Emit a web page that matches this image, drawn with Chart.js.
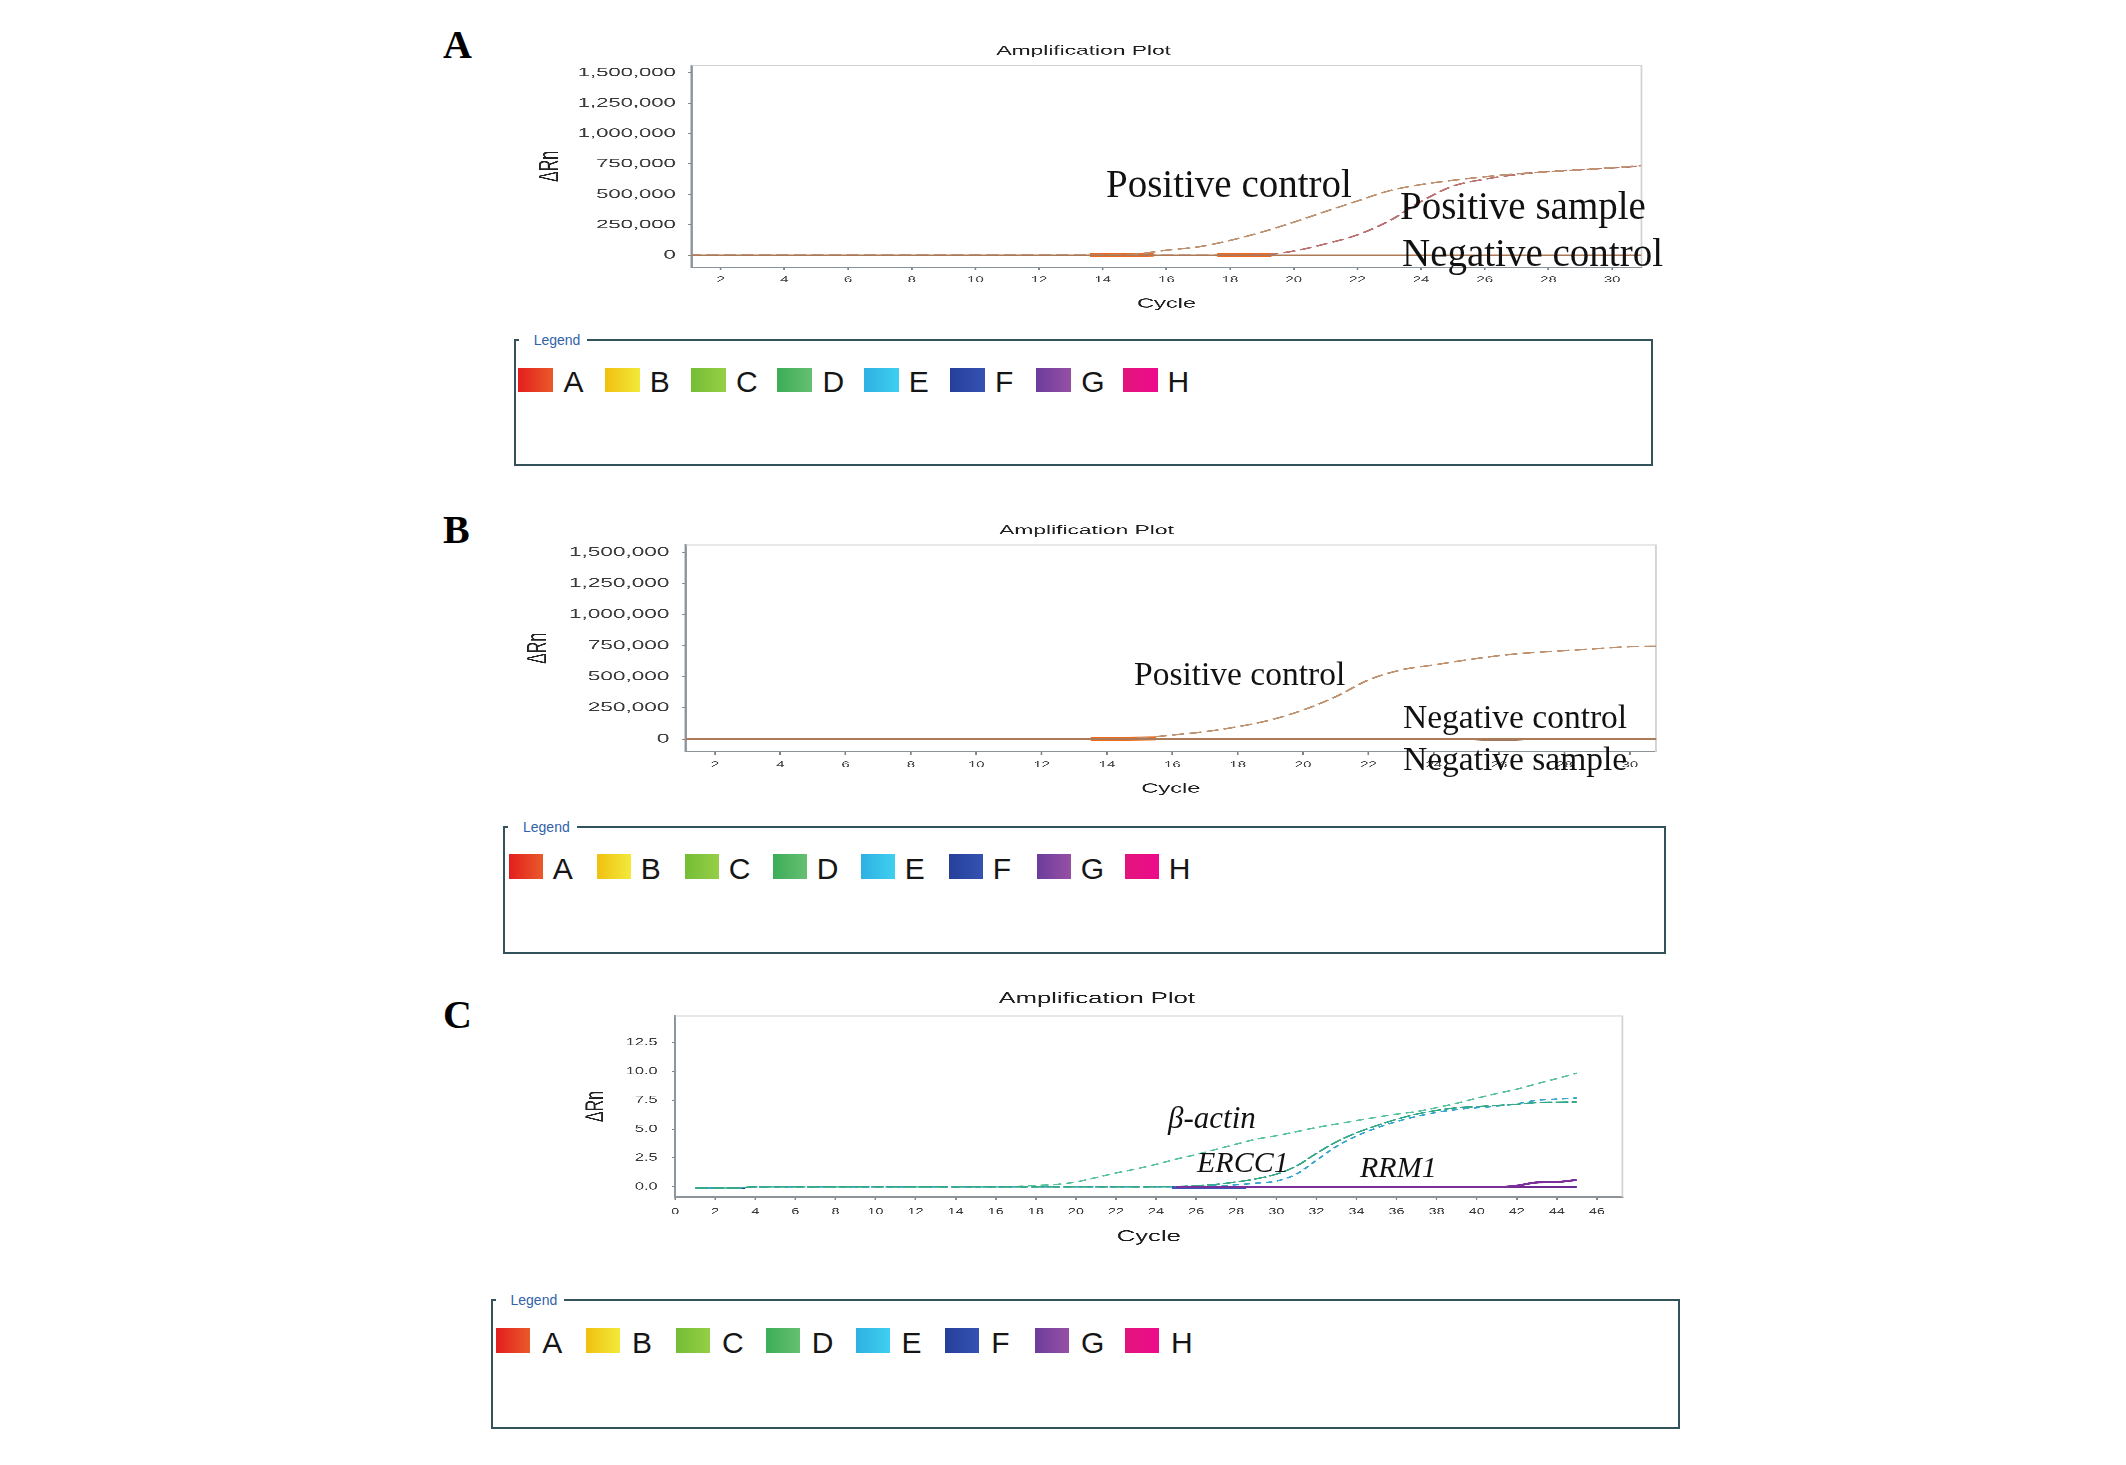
<!DOCTYPE html>
<html>
<head>
<meta charset="utf-8">
<title>Amplification plots</title>
<script src="https://cdn.jsdelivr.net/npm/chart.js@4.4.1/dist/chart.umd.min.js"></script>
<style>
  html, body { margin: 0; padding: 0; background: #fff; }
  body { position: relative; width: 2126px; height: 1465px; overflow: hidden; font-family: "Liberation Sans", Arial, sans-serif; }
  .panel-letter { position: absolute; font: bold 40px/1 "Liberation Serif", "Times New Roman", serif; color: #000; }
  .note { position: absolute; font-family: "Liberation Serif", "Times New Roman", serif; line-height: 1; color: #111; white-space: nowrap; }
  .note.it { font-style: italic; }
  .plot { position: absolute; transform-origin: 0 0; }
  .plot canvas { display: block; }
  .legend-box { position: absolute; box-sizing: border-box; border: 2px solid #34525c; }
  .legend-title { position: absolute; top: -9px; left: 3px; padding: 0 7px 0 15px; background: #fff; font-size: 14px; line-height: 16px; color: #2f62aa; }
  .swatch { position: absolute; }
  .swatch-label { position: absolute; font-size: 30px; line-height: 1; color: #151515; }
</style>
</head>
<body>
<script>
// ---- values ----

// Panel A: positive control, positive sample, negative control
const cyclesA = [1,2,3,4,5,6,7,8,9,10,11,12,13,14,15,16,17,18,19,20,21,22,23,24,25,26,27,28,29,30,31];
const posControlA = [0,0,0,0,0,0,0,0,0,0,0,0,0,1000,8000,42000,69000,122000,191000,272000,360000,446000,530000,581000,616000,645000,669000,686000,702000,720000,738000];
const posSampleA = [0,0,0,0,0,0,0,0,0,0,0,0,0,0,0,0,0,0,3000,35000,94000,168000,283000,442000,568000,625000,663000,688000,703000,718000,735000];
const negControlA = [0,0,0,0,0,0,0,0,0,0,0,0,0,0,0,0,0,0,0,0,0,0,0,0,0,0,0,0,0,0,0];
const baseCyclesA1 = [13.6, 15.6];
const baseValuesA1 = [0, 6000];
const baseCyclesA2 = [17.6, 19.3];
const baseValuesA2 = [0, 3000];

// Panel B: positive control, negative control, negative sample
const cyclesB = [1,2,3,4,5,6,7,8,9,10,11,12,13,14,15,16,17,18,19,20,21,22,23,24,25,26,27,28,29,30,31];
const posControlB = [0,0,0,0,0,0,0,0,0,0,0,0,0,0,8000,32000,59000,99000,153000,233000,340000,474000,555000,595000,635000,670000,694000,710000,726000,742000,745000];
const negControlB = [0,0,0,0,0,0,0,0,0,0,0,0,0,0,0,0,0,0,0,0,0,0,0,0,0,0,0,0,0,0,0];
const negSampleB = [0,0,0,0,0,0,0,0,0,0,0,0,0,0,0,0,0,0,0,0,0,0,0,0,-3000,-12000,-3000,0,0,0,0];
const baseCyclesB = [13.5, 15.5];
const baseValuesB = [0, 5000];

const yTicksAB = [0, 250000, 500000, 750000, 1000000, 1250000, 1500000];
const xTicksAB = [2, 4, 6, 8, 10, 12, 14, 16, 18, 20, 22, 24, 26, 28, 30];

// Panel C: beta-actin, ERCC1, RRM1
const cyclesC = [1,2,3,4,5,6,7,8,9,10,11,12,13,14,15,16,17,18,19,20,21,22,23,24,25,26,27,28,29,30,31,32,33,34,35,36,37,38,39,40,41,42,43,44,45];
const betaActinC = [-0.1,-0.1,-0.1,0,0,0,0,0,0,0,0,0,0,0,0,0,0.03,0.12,0.2,0.42,0.8,1.2,1.55,1.95,2.4,2.8,3.25,3.7,4.13,4.43,4.78,5.14,5.44,5.74,6.03,6.3,6.52,6.86,7.24,7.68,8.08,8.46,8.93,9.38,9.85];
const ercc1C1 = [-0.1,-0.1,-0.1,0,0,0,0,0,0,0,0,0,0,0,0,0,0,0,0,0,0,0,0,0,0.03,0.1,0.22,0.42,0.7,1.1,1.8,2.9,3.9,4.68,5.3,5.85,6.3,6.62,6.85,6.95,7.05,7.15,7.3,7.33,7.35];
const ercc1C2 = [-0.1,-0.1,-0.1,0,0,0,0,0,0,0,0,0,0,0,0,0,0,0,0,0,0,0,0,0,0,0.03,0.08,0.18,0.32,0.5,1.1,2.3,3.5,4.4,5.1,5.65,6.1,6.45,6.7,6.85,7.0,7.2,7.5,7.6,7.7];
const rrm1C1 = [null,null,null,null,null,null,null,null,null,null,null,null,null,null,null,null,null,null,null,null,null,null,null,null,-0.03,-0.03,-0.03,-0.03,-0.03,-0.03,-0.03,-0.03,-0.03,-0.03,-0.03,-0.03,-0.03,-0.03,-0.03,-0.03,-0.03,0.1,0.38,0.42,0.6];
const rrm1C2 = [null,null,null,null,null,null,null,null,null,null,null,null,null,null,null,null,null,null,null,null,null,null,null,null,-0.02,-0.02,-0.02,-0.02,-0.02,-0.02,-0.02,-0.02,-0.02,-0.02,-0.02,-0.02,-0.02,-0.02,-0.02,-0.02,-0.02,-0.02,-0.02,-0.02,-0.02];
const startCyclesC = [1, 3.5];
const startValuesC = [-0.1, -0.1];
const blueCyclesC = [24.8, 28.5];
const blueValuesC = [-0.04, -0.04];

const yTicksC = [0, 2.5, 5, 7.5, 10, 12.5];
const xTicksC = [0,2,4,6,8,10,12,14,16,18,20,22,24,26,28,30,32,34,36,38,40,42,44,46];

const legendLabels = ['A', 'B', 'C', 'D', 'E', 'F', 'G', 'H'];
const legendColors = [
  ['#e31e1e', '#ea5a2a'], ['#f0c010', '#f2ea3a'], ['#74bd36', '#96cf46'], ['#3cad58', '#66bf72'],
  ['#2fb0e2', '#3ed0f0'], ['#26409a', '#3552b2'], ['#6c3c9c', '#9650a4'], ['#e2157c', '#ee0a8c']
];

// ---- drawing ----
const SANS = '"Liberation Sans", Arial, sans-serif';

// light top/right frame around the plot area
const frameLines = {
  id: 'frameLines',
  beforeDatasetsDraw(chart) {
    const { ctx, chartArea: a } = chart;
    ctx.save();
    ctx.strokeStyle = '#d2d2d2';
    ctx.lineWidth = 1;
    ctx.beginPath();
    ctx.moveTo(a.left, a.top);
    ctx.lineTo(a.right, a.top);
    ctx.lineTo(a.right, a.bottom);
    ctx.stroke();
    ctx.restore();
  }
};

function series(xs, ys) {
  const out = [];
  xs.forEach((x, i) => { if (ys[i] !== null) out.push({ x: x, y: ys[i] }); });
  return out;
}

function line(label, xs, ys, color, width, dash) {
  return {
    label: label,
    data: series(xs, ys),
    borderColor: color,
    borderWidth: width,
    borderDash: dash || [],
    pointRadius: 0,
    fill: false,
    cubicInterpolationMode: 'monotone'
  };
}

// g holds the page-pixel geometry of one plot; the plot is drawn narrow and stretched
// sideways, like the figure's screenshots
function buildPlot(g, datasets) {
  const frameRight = g.areaRight + 8;
  const realW = frameRight - g.frameLeft;
  const w = Math.round(realW / g.sx);
  const s = realW / w;
  const h = g.frameBottom - g.frameTop;

  const wrap = document.createElement('div');
  wrap.className = 'plot';
  wrap.style.left = g.frameLeft + 'px';
  wrap.style.top = g.frameTop + 'px';
  wrap.style.width = w + 'px';
  wrap.style.height = h + 'px';
  wrap.style.transform = 'scaleX(' + s + ')';
  const canvas = document.createElement('canvas');
  canvas.width = w;
  canvas.height = h;
  wrap.appendChild(canvas);
  document.body.appendChild(wrap);

  const yAxisW = (g.areaLeft - g.frameLeft) / s;
  const padRight = 8 / s;
  const xAxisH = g.frameBottom - g.areaBottom;
  const tLh = g.titleSize * 1.2;
  const tPadTop = g.titleY - g.frameTop - tLh / 2;
  const tPadBottom = (g.areaTop - g.frameTop) - tPadTop - tLh;
  const xLh = g.tickSizeX * 1.2;
  const xTickPad = (g.xLabelY - g.areaBottom) - 3 - xLh / 2;
  const cLh = g.cycleSize * 1.2;
  const cyclePad = g.frameBottom - g.cycleY - cLh / 2;
  const yTitlePad = (g.yTitleX - g.frameLeft) / s - g.yTitleSize * 0.6;

  new Chart(canvas, {
    type: 'line',
    data: { datasets: datasets },
    options: {
      responsive: false,
      animation: false,
      devicePixelRatio: 3,
      layout: { padding: { top: 0, left: 0, bottom: 0, right: padRight } },
      plugins: {
        legend: { display: false },
        tooltip: { enabled: false },
        title: {
          display: true,
          text: 'Amplification Plot',
          color: '#1e1e1e',
          font: { family: SANS, size: g.titleSize, weight: 'normal' },
          padding: { top: tPadTop, bottom: tPadBottom }
        }
      },
      scales: {
        x: {
          type: 'linear',
          min: g.xMin,
          max: g.xMax,
          afterFit: sc => { sc.height = xAxisH; },
          afterBuildTicks: sc => { sc.ticks = g.xTicks.map(v => ({ value: v })); },
          grid: { drawOnChartArea: false, tickLength: 3, color: '#7d8388' },
          border: { color: '#8d9499', width: 1.3 },
          ticks: {
            autoSkip: false, maxRotation: 0, padding: xTickPad, color: '#3a3a3a',
            font: { family: SANS, size: g.tickSizeX },
            callback: v => String(v)
          },
          title: {
            display: true, text: 'Cycle', color: '#1e1e1e',
            font: { family: SANS, size: g.cycleSize },
            padding: { top: 0, bottom: cyclePad }
          }
        },
        y: {
          min: g.yMin,
          max: g.yMax,
          afterFit: sc => { sc.width = yAxisW; },
          afterBuildTicks: sc => { sc.ticks = g.yTicks.map(v => ({ value: v })); },
          grid: { drawOnChartArea: false, tickLength: 2, color: '#7d8388' },
          border: { color: '#8d9499', width: 1.3 },
          ticks: {
            padding: g.yLabelPad, color: '#3a3a3a',
            font: { family: SANS, size: g.tickSizeY },
            callback: g.fmt
          },
          title: {
            display: true, text: 'ΔRn', color: '#222',
            font: { family: SANS, size: g.yTitleSize },
            padding: { top: yTitlePad, bottom: 0 }
          }
        }
      }
    },
    plugins: [frameLines]
  });
}

function buildLegend(b) {
  const box = document.createElement('div');
  box.className = 'legend-box';
  box.style.left = b.left + 'px';
  box.style.top = b.top + 'px';
  box.style.width = (b.right - b.left) + 'px';
  box.style.height = (b.bottom - b.top) + 'px';
  const t = document.createElement('span');
  t.className = 'legend-title';
  t.textContent = 'Legend';
  box.appendChild(t);
  legendLabels.forEach((lab, i) => {
    const x = b.sqLeft - b.left - 2 + i * b.step;
    const y = b.sqTop - b.top - 2;
    const sq = document.createElement('div');
    sq.className = 'swatch';
    sq.style.left = x + 'px';
    sq.style.top = y + 'px';
    sq.style.width = b.sqW + 'px';
    sq.style.height = b.sqH + 'px';
    sq.style.background = 'linear-gradient(to right, ' + legendColors[i][0] + ', ' + legendColors[i][1] + ')';
    box.appendChild(sq);
    const tx = document.createElement('div');
    tx.className = 'swatch-label';
    tx.textContent = lab;
    tx.style.left = (x + b.textDx) + 'px';
    tx.style.top = (y + b.sqH - 25.4) + 'px';
    box.appendChild(tx);
  });
  document.body.appendChild(box);
}

function addText(cls, text, left, baseline, size) {
  const d = document.createElement('div');
  d.className = cls;
  d.textContent = text;
  d.style.fontSize = size + 'px';
  d.style.left = left + 'px';
  d.style.top = (baseline - 0.8375 * size) + 'px';
  document.body.appendChild(d);
}

const fmtBig = v => Number(v).toLocaleString('en-US');
const fmtSmall = v => Number(v).toFixed(1);

// Panel A
buildPlot({
  frameLeft: 526.3, frameTop: 36, frameBottom: 322,
  areaLeft: 692, areaRight: 1641.7, areaTop: 65.5, areaBottom: 267.3,
  sx: 1.75, xMin: 1.09, xMax: 30.92, yMin: -98600, yMax: 1559000,
  xTicks: xTicksAB, yTicks: yTicksAB, fmt: fmtBig,
  titleSize: 13, titleY: 51, tickSizeX: 8.5, tickSizeY: 12.6, yLabelPad: 7.1,
  xLabelY: 280, cycleSize: 13.5, cycleY: 304, yTitleSize: 16, yTitleX: 550.5
}, [
  line('Negative control', cyclesA, negControlA, '#ad7a58', 1.6),
  line('Positive control', cyclesA, posControlA, '#bf9270', 1.6, [7, 3]),
  line('Positive sample', cyclesA, posSampleA, '#bb7372', 1.6, [7, 3]),
  line('baseline 1', baseCyclesA1, baseValuesA1, '#f06a1e', 4),
  line('baseline 2', baseCyclesA2, baseValuesA2, '#f06a1e', 4)
]);

// Panel B
buildPlot({
  frameLeft: 516.5, frameTop: 515, frameBottom: 808,
  areaLeft: 685.3, areaRight: 1655.5, areaTop: 545, areaBottom: 751.7,
  sx: 1.75, xMin: 1.11, xMax: 30.8, yMin: -102000, yMax: 1558600,
  xTicks: xTicksAB, yTicks: yTicksAB, fmt: fmtBig,
  titleSize: 13, titleY: 530.7, tickSizeX: 8.5, tickSizeY: 12.9, yLabelPad: 7.4,
  xLabelY: 765, cycleSize: 13.5, cycleY: 789, yTitleSize: 16, yTitleX: 538
}, [
  line('Negative control', cyclesB, negControlB, '#ad7a58', 1.6),
  line('Negative sample', cyclesB, negSampleB, '#9c7a66', 1.4),
  line('Positive control', cyclesB, posControlB, '#bf9270', 1.6, [7, 3]),
  line('baseline', baseCyclesB, baseValuesB, '#f06a1e', 4)
]);

// Panel C
buildPlot({
  frameLeft: 571.3, frameTop: 980, frameBottom: 1258,
  areaLeft: 675.4, areaRight: 1622.7, areaTop: 1016, areaBottom: 1197,
  sx: 1.6, xMin: 0, xMax: 47.27, yMin: -0.88, yMax: 14.8,
  xTicks: xTicksC, yTicks: yTicksC, fmt: fmtSmall,
  titleSize: 16, titleY: 999, tickSizeX: 9, tickSizeY: 10.2, yLabelPad: 9,
  xLabelY: 1212, cycleSize: 16, cycleY: 1237, yTitleSize: 16, yTitleX: 596
}, [
  line('RRM1 a', cyclesC, rrm1C1, '#7a2f9a', 2.2),
  line('RRM1 b', cyclesC, rrm1C2, '#6e2a92', 2.2),
  line('ERCC1 a', cyclesC, ercc1C1, '#35a98a', 1.5, [8, 2]),
  line('ERCC1 b', cyclesC, ercc1C2, '#3aa6cf', 1.5, [4, 3]),
  line('beta-actin', cyclesC, betaActinC, '#58c39b', 1.5, [5, 3]),
  line('start', startCyclesC, startValuesC, '#2d4476', 2.6),
  line('baseline', blueCyclesC, blueValuesC, '#3a57b8', 3)
]);

buildLegend({ left: 513.7, top: 339, right: 1653, bottom: 466, sqLeft: 518.5, sqTop: 368, sqW: 35, sqH: 24, step: 86.3, textDx: 45 });
buildLegend({ left: 503, top: 826, right: 1666, bottom: 954, sqLeft: 508.7, sqTop: 854, sqW: 34, sqH: 25, step: 88, textDx: 44 });
buildLegend({ left: 490.5, top: 1299, right: 1680, bottom: 1429, sqLeft: 496.3, sqTop: 1328, sqW: 34, sqH: 25, step: 89.8, textDx: 46 });

// panel letters
addText('panel-letter', 'A', 443, 58.3, 40);
addText('panel-letter', 'B', 443, 543, 40);
addText('panel-letter', 'C', 443, 1028, 40);

// curve annotations
addText('note', 'Positive control', 1106, 197, 39);
addText('note', 'Positive sample', 1400, 219, 39);
addText('note', 'Negative control', 1402, 266, 39);
addText('note', 'Positive control', 1134, 685, 33.5);
addText('note', 'Negative control', 1403, 728, 33.5);
addText('note', 'Negative sample', 1403, 770, 33.5);
addText('note it', 'β-actin', 1168, 1128, 31);
addText('note it', 'ERCC1', 1197, 1172, 30);
addText('note it', 'RRM1', 1360, 1177, 30);
</script>
</body>
</html>
